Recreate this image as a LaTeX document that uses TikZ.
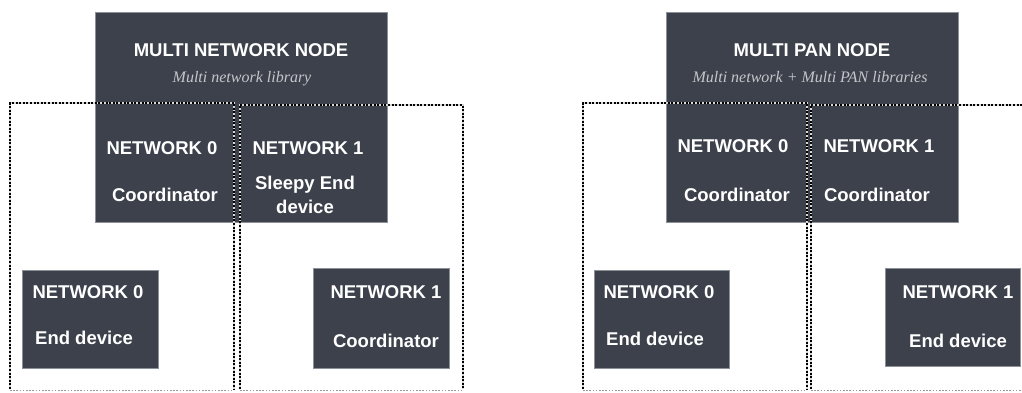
\documentclass[tikz,border=0pt]{standalone}
\usepackage{fontspec}
\setmainfont{Liberation Sans}
\newfontfamily\serifit{Liberation Serif}
\definecolor{boxfill}{HTML}{3C414C}
\definecolor{boxedge}{HTML}{8C9099}
\definecolor{subtext}{HTML}{C4C6CA}
\tikzset{
  darkbox/.style={draw=boxedge, line width=0.6pt, fill=boxfill, inner sep=0pt},
  lbl/.style={text=white, font=\fontsize{18.5}{20}\selectfont\bfseries, inner sep=0pt, anchor=base},
  sublbl/.style={text=subtext, font=\fontsize{16}{18}\selectfont\serifit\itshape, inner sep=0pt, anchor=base},
  netline/.style={line width=2.2pt, dash pattern=on 2pt off 1.6pt, black},
  netunder/.style={line width=2.2pt, white!85!black},
  netbottom/.style={line width=1pt, black!40, dash pattern=on 1.6pt off 1.6pt},
}
\begin{document}
\begin{tikzpicture}[x=1pt,y=-1pt]
\useasboundingbox (0,0) rectangle (1022,393);
% ---------------- left panel ----------------
\node[darkbox, minimum width=292pt, minimum height=210pt] (ltop) at (241,117) {};
\node[darkbox, minimum width=136pt, minimum height=98pt] (lbl0) at (90,319) {};
\node[darkbox, minimum width=136pt, minimum height=100pt] (lbr1) at (381,318) {};
\node[lbl] (ltitle) at (241,57) {MULTI NETWORK NODE};
\node[sublbl] (lsub) at (242,83) {Multi network library};
\node[lbl] (ln0) at (162,154) {NETWORK 0};
\node[lbl] (lc0) at (165,201) {Coordinator};
\node[lbl] (ln1) at (308,154) {NETWORK 1};
\node[lbl] (ls1) at (305,189) {Sleepy End};
\node[lbl] (ld1) at (305,213) {device};
\node[lbl] (lbn0) at (88,298) {NETWORK 0};
\node[lbl] (lbe0) at (84,344) {End device};
\node[lbl] (lbn1) at (386,298) {NETWORK 1};
\node[lbl] (lbc1) at (386,347) {Coordinator};
% dotted network areas
\draw[netunder] (10,389) -- (10,103) -- (234,103) -- (234,389);
\draw[netline] (10,389) -- (10,103) -- (234,103) -- (234,389);
\draw[netunder] (240,389) -- (240,105) -- (463,105) -- (463,389);
\draw[netline] (240,389) -- (240,105) -- (463,105) -- (463,389);
\draw[netbottom] (10,390) -- (234,390) (240,390) -- (463,390);
% ---------------- right panel ----------------
\node[darkbox, minimum width=292pt, minimum height=210pt] (rtop) at (812,117) {};
\node[darkbox, minimum width=135pt, minimum height=98pt] (rbl0) at (661.5,319) {};
\node[darkbox, minimum width=135pt, minimum height=98pt] (rbr1) at (952.5,317) {};
\node[lbl] (rtitle) at (812,57) {MULTI PAN NODE};
\node[sublbl] (rsub) at (810,83) {Multi network + Multi PAN libraries};
\node[lbl] (rn0) at (733,153) {NETWORK 0};
\node[lbl] (rc0) at (737,201) {Coordinator};
\node[lbl] (rn1) at (879,153) {NETWORK 1};
\node[lbl] (rc1) at (877,201) {Coordinator};
\node[lbl] (rbn0) at (659,298) {NETWORK 0};
\node[lbl] (rbe0) at (655,345) {End device};
\node[lbl] (rbn1) at (958,298) {NETWORK 1};
\node[lbl] (rbe1) at (958,347) {End device};
\draw[netunder] (583,389) -- (583,103) -- (807,103) -- (807,389);
\draw[netline] (583,389) -- (583,103) -- (807,103) -- (807,389);
\draw[netunder] (811,389) -- (811,105) -- (1022,105);
\draw[netline] (811,389) -- (811,105) -- (1022,105);
\draw[netbottom] (583,390) -- (807,390) (811,390) -- (1022,390);
\end{tikzpicture}
\end{document}
